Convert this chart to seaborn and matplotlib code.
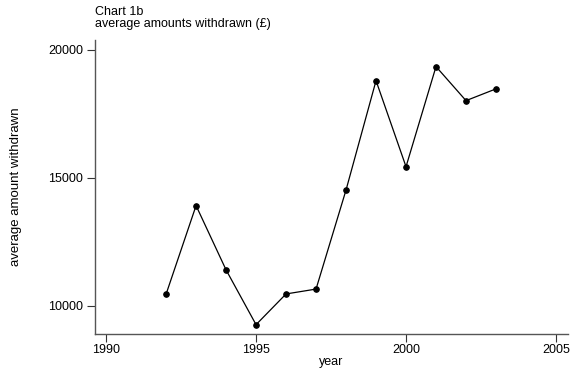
import matplotlib
matplotlib.use("Agg")
import matplotlib.pyplot as plt
import seaborn as sns
import pandas as pd

years = [1992, 1993, 1994, 1995, 1996, 1997, 1998, 1999, 2000, 2001, 2002, 2003]
avg_withdrawn = [10460, 13920, 11410, 9270, 10470, 10660, 14530, 18800, 15440, 19350, 18020, 18480]
x_ticks = [1990, 1995, 2000, 2005]
y_ticks = [10000, 15000, 20000]

sns.set_style("white", {"text.color": "black", "axes.labelcolor": "black",
                        "xtick.color": "black", "ytick.color": "black"})
plt.rcParams["font.family"] = ["Liberation Sans", "DejaVu Sans"]

df = pd.DataFrame({"year": years, "avg": avg_withdrawn})

fig = plt.figure(figsize=(5.75, 3.77), dpi=100)
ax = fig.add_axes([0.1652, 0.1141, 0.8226, 0.7799])

sns.lineplot(data=df, x="year", y="avg", ax=ax, color="black", linewidth=0.9,
             marker="o", markersize=4, markeredgecolor="black")

ax.set_xlim(1989.63, 2005.4)
ax.set_ylim(8906, 20390)
ax.set_xticks(x_ticks)
ax.set_yticks(y_ticks)
ax.tick_params(axis="both", direction="out", length=5.5, width=0.8, color="#333333",
               labelcolor="black", labelsize=9, bottom=True, left=True)
ax.tick_params(axis="y", pad=3)
ax.tick_params(axis="x", pad=1.5)

for side in ("top", "right"):
    ax.spines[side].set_visible(False)
for side in ("left", "bottom"):
    ax.spines[side].set_color("#555555")
    ax.spines[side].set_linewidth(1.0)

ax.set_xlabel("year", fontsize=9, labelpad=0, color="black")
ax.set_ylabel("average amount withdrawn", fontsize=9.5, color="black")
ax.yaxis.set_label_coords(-0.155, 0.5)

ax.text(0.0, 1.035, "Chart 1b\naverage amounts withdrawn (£)", transform=ax.transAxes,
        ha="left", va="bottom", fontsize=9, linespacing=1.0, color="black")

fig.savefig("out.png", dpi=100)
